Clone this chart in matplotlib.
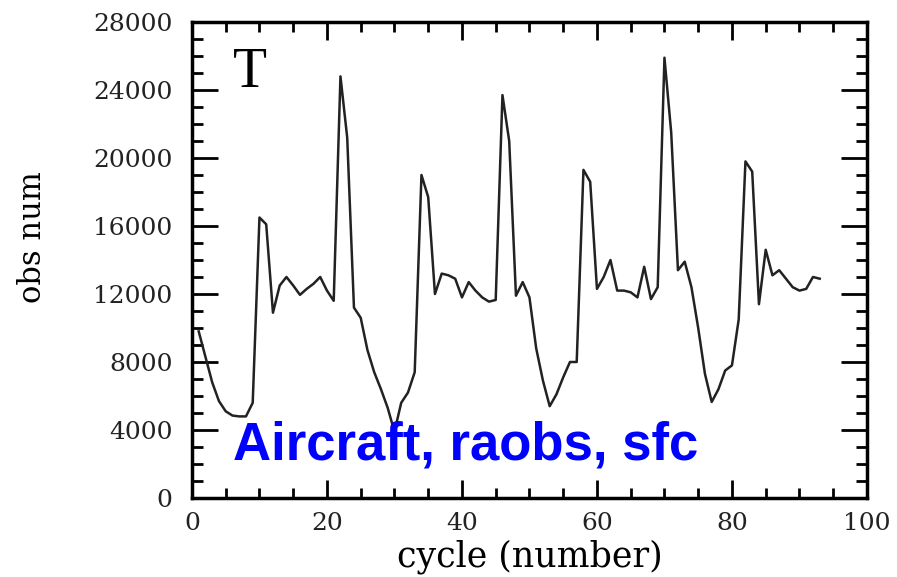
import numpy as np
import matplotlib
matplotlib.use("Agg")
import matplotlib.pyplot as plt
from matplotlib.ticker import MultipleLocator

# observation counts per assimilation cycle
cycle = np.arange(1, 94)
obs_num = [
    9800, 8300, 6800, 5700, 5100, 4850, 4800, 4800, 5600, 16500,
    16100, 10900, 12500, 13000, 12500, 11950, 12300, 12600, 13000, 12200,
    11600, 24800, 21200, 11200, 10600, 8700, 7400, 6400, 5300, 3900,
    5600, 6200, 7400, 19000, 17700, 12000, 13200, 13100, 12900, 11800,
    12700, 12200, 11800, 11550, 11650, 23700, 21000, 11900, 12700, 11800,
    8800, 6900, 5400, 6100, 7100, 8000, 8000, 19300, 18600, 12300,
    13000, 14000, 12200, 12200, 12100, 11800, 13600, 11700, 12400, 25900,
    21500, 13400, 13900, 12400, 10000, 7300, 5650, 6400, 7500, 7800,
    10500, 19800, 19200, 11400, 14600, 13100, 13400, 12900, 12400, 12200,
    12300, 13000, 12900,
]

var_name = "T"
sources = "Aircraft, raobs, sfc"

fig = plt.figure(figsize=(8.97, 5.77), dpi=100)
ax = fig.add_axes([0.2140, 0.1369, 0.7525, 0.8250])

ax.plot(cycle, obs_num, color="#222222", linewidth=1.8)

ax.set_xlim(0, 100)
ax.set_ylim(0, 28000)
ax.xaxis.set_major_locator(MultipleLocator(20))
ax.xaxis.set_minor_locator(MultipleLocator(5))
ax.yaxis.set_major_locator(MultipleLocator(4000))
ax.yaxis.set_minor_locator(MultipleLocator(1000))

ax.tick_params(axis="both", which="both", direction="in",
               top=True, right=True, color="black")
ax.tick_params(axis="x", which="major", length=13, width=2, pad=10)
ax.tick_params(axis="x", which="minor", length=7, width=2)
ax.tick_params(axis="y", which="major", length=19, width=2, pad=14)
ax.tick_params(axis="y", which="minor", length=8, width=2)

for lab in ax.get_xticklabels() + ax.get_yticklabels():
    lab.set_family("DejaVu Serif")
    lab.set_fontsize(18)
    lab.set_color("#222222")

for spine in ax.spines.values():
    spine.set_linewidth(2.5)

ax.set_xlabel("cycle (number)", family="DejaVu Serif", fontsize=25)
ax.set_ylabel("obs num", family="DejaVu Serif", fontsize=22)
ax.xaxis.set_label_coords(0.5, -0.088)
ax.yaxis.set_label_coords(-0.213, 0.548)

ax.text(6.1, 24200, var_name, family="Liberation Serif", fontsize=40,
        ha="left", va="baseline")
ax.text(6.1, 2250, sources, family="Liberation Sans", fontweight="bold",
        fontsize=38, color="#0000ff", ha="left", va="baseline")

fig.savefig("out.png", dpi=100)
